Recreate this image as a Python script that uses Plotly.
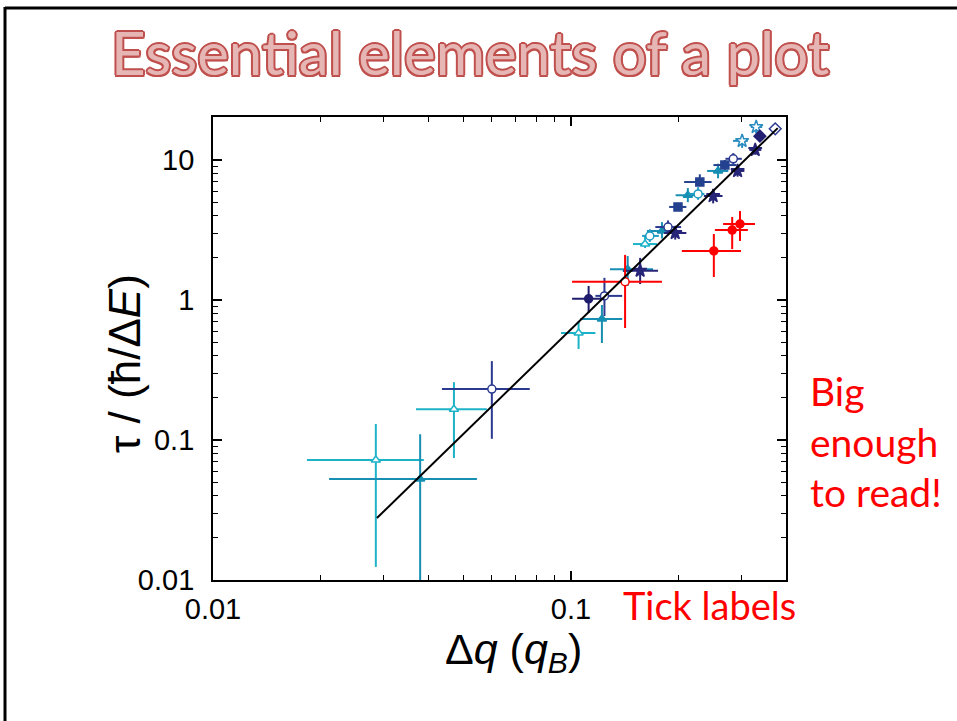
import plotly.graph_objects as go

W, H = 957, 721

# ---------------- data (value, lower bound, upper bound) ----------------
cyan_tri_x   = [0.0285, 0.0471, 0.105, 0.161]
cyan_tri_y   = [0.072, 0.166, 0.581, 2.51]
cyan_tri_xlo = [0.0183, 0.0369, 0.0938, 0.149]
cyan_tri_xhi = [0.0388, 0.0582, 0.117, 0.174]
cyan_tri_ylo = [0.0124, 0.0744, 0.447, 2.35]
cyan_tri_yhi = [0.130, 0.259, 0.708, 2.87]

teal_tri_x   = [0.0379, 0.122, 0.144, 0.1795, 0.212, 0.2575]
teal_tri_y   = [0.0527, 0.732, 1.66, 3.11, 5.6, 8.35]
teal_tri_xlo = [0.0211, 0.106, 0.1285, 0.163, 0.196, 0.240]
teal_tri_xhi = [0.0546, 0.139, 0.1695, 0.196, 0.228, 0.275]
teal_tri_ylo = [0.005, 0.493, 1.26, 2.75, 5.0, 7.4]
teal_tri_yhi = [0.110, 0.921, 2.06, 3.6, 6.3, 9.4]

navy_circ_x   = [0.0601, 0.124, 0.1866, 0.284]
navy_circ_y   = [0.231, 1.07, 3.32, 10.2]
navy_circ_xlo = [0.0436, 0.117, 0.172, 0.270]
navy_circ_xhi = [0.0767, 0.139, 0.203, 0.300]
navy_circ_ylo = [0.102, 0.768, 2.95, 9.3]
navy_circ_yhi = [0.366, 1.44, 3.7, 11.2]

dark_circ_x   = [0.112]
dark_circ_y   = [1.02]
dark_circ_xlo = [0.1007]
dark_circ_xhi = [0.124]
dark_circ_ylo = [0.807]
dark_circ_yhi = [1.26]

teal_circ_x   = [0.166, 0.2265]
teal_circ_y   = [2.87, 5.72]
teal_circ_xlo = [0.158, 0.213]
teal_circ_xhi = [0.176, 0.236]
teal_circ_ylo = [2.6, 5.2]
teal_circ_yhi = [3.2, 6.4]

navy_star_x   = [0.156, 0.1955, 0.2495, 0.292, 0.327]
navy_star_y   = [1.62, 3.01, 5.53, 8.35, 11.8]
navy_star_xlo = [0.140, 0.182, 0.235, 0.280, 0.315]
navy_star_xhi = [0.175, 0.210, 0.265, 0.305, 0.340]
navy_star_ylo = [1.3, 2.7, 4.9, 7.6, 10.9]
navy_star_yhi = [2.0, 3.35, 6.2, 9.2, 12.8]

navy_sq_x   = [0.199, 0.229, 0.269]
navy_sq_y   = [4.62, 6.96, 9.2]
navy_sq_xlo = [0.188, 0.207, 0.250]
navy_sq_xhi = [0.210, 0.247, 0.290]
navy_sq_ylo = [4.4, 6.5, 8.5]
navy_sq_yhi = [4.85, 7.9, 10.0]

teal_star_x   = [0.3006, 0.329]
teal_star_y   = [13.7, 17.2]
teal_star_xlo = [0.2835, 0.318]
teal_star_xhi = [0.312, 0.342]
teal_star_ylo = [12.2, 15.5]
teal_star_yhi = [15.1, 19.0]

navy_dia_x   = [0.337, 0.372]
navy_dia_y   = [14.8, 16.7]
navy_dia_xlo = [0.325, 0.362]
navy_dia_xhi = [0.349, 0.382]
navy_dia_ylo = [14.0, 16.0]
navy_dia_yhi = [15.6, 17.4]

red_x   = [0.1416, 0.2506, 0.282, 0.2965]
red_y   = [1.35, 2.24, 3.16, 3.49]
red_xlo = [0.1007, 0.204, 0.2523, 0.266]
red_xhi = [0.1795, 0.2985, 0.312, 0.3266]
red_ylo = [0.631, 1.46, 2.31, 2.64]
red_yhi = [2.10, 2.96, 3.92, 4.32]

fit_x = [0.0287, 0.378]
fit_y = [0.0277, 16.9]

x_tickvals = [0.01, 0.1]
x_ticktext = ["0.01", "0.1"]
y_tickvals = [0.01, 0.1, 1, 10]
y_ticktext = ["0.01", "0.1", "1", "10"]

title_fill = "#e6b6b5"
# the "t" sits in its own span so that "ti" is not drawn as a ligature
title_text = f"Essen<span style='color:{title_fill}'>t</span>ial elements of a plot"
x_title = "Δ<i>q</i> (<i>q</i><sub><i>B</i></sub>)"
y_title = "τ / (ħ/Δ<i>E</i>)"
note_big = "Big<br>enough<br>to read!"
note_tick = "Tick labels"

# ---------------- figure ----------------
fig = go.Figure()


def add_series(x, y, xlo, xhi, ylo, yhi, color, symbol, filled, size=8):
    fig.add_trace(go.Scatter(
        x=x, y=y, mode="markers",
        marker=dict(symbol=symbol, size=size,
                    color=color if filled else "white",
                    line=dict(color=color, width=1.5)),
        error_x=dict(type="data", symmetric=False,
                     array=[h - v for h, v in zip(xhi, x)],
                     arrayminus=[v - l for v, l in zip(x, xlo)],
                     color=color, thickness=2, width=0),
        error_y=dict(type="data", symmetric=False,
                     array=[h - v for h, v in zip(yhi, y)],
                     arrayminus=[v - l for v, l in zip(y, ylo)],
                     color=color, thickness=2, width=0),
        showlegend=False, hoverinfo="skip", cliponaxis=True))


add_series(cyan_tri_x, cyan_tri_y, cyan_tri_xlo, cyan_tri_xhi, cyan_tri_ylo, cyan_tri_yhi,
           "#1cb3c8", "triangle-up", False)
add_series(teal_tri_x, teal_tri_y, teal_tri_xlo, teal_tri_xhi, teal_tri_ylo, teal_tri_yhi,
           "#178fb3", "triangle-up", True)
add_series(navy_circ_x, navy_circ_y, navy_circ_xlo, navy_circ_xhi, navy_circ_ylo, navy_circ_yhi,
           "#2b3990", "circle", False)
add_series(dark_circ_x, dark_circ_y, dark_circ_xlo, dark_circ_xhi, dark_circ_ylo, dark_circ_yhi,
           "#1f1c6e", "circle", True)
add_series(teal_circ_x, teal_circ_y, teal_circ_xlo, teal_circ_xhi, teal_circ_ylo, teal_circ_yhi,
           "#1f9cc2", "circle", False)
add_series(navy_star_x, navy_star_y, navy_star_xlo, navy_star_xhi, navy_star_ylo, navy_star_yhi,
           "#272578", "star", True, 10)
add_series(navy_sq_x, navy_sq_y, navy_sq_xlo, navy_sq_xhi, navy_sq_ylo, navy_sq_yhi,
           "#24418f", "square", True)
add_series(teal_star_x, teal_star_y, teal_star_xlo, teal_star_xhi, teal_star_ylo, teal_star_yhi,
           "#2b8cc0", "star", False, 10)
add_series(navy_dia_x[:1], navy_dia_y[:1], navy_dia_xlo[:1], navy_dia_xhi[:1], navy_dia_ylo[:1], navy_dia_yhi[:1],
           "#231f72", "diamond", True, 9)
add_series(navy_dia_x[1:], navy_dia_y[1:], navy_dia_xlo[1:], navy_dia_xhi[1:], navy_dia_ylo[1:], navy_dia_yhi[1:],
           "#2b3990", "diamond", False, 9)
add_series(red_x[:1], red_y[:1], red_xlo[:1], red_xhi[:1], red_ylo[:1], red_yhi[:1],
           "#ff0000", "circle", False)
add_series(red_x[1:], red_y[1:], red_xlo[1:], red_xhi[1:], red_ylo[1:], red_yhi[1:],
           "#ff0000", "circle", True)

fig.add_trace(go.Scatter(x=fit_x, y=fit_y, mode="lines",
                         line=dict(color="black", width=2),
                         showlegend=False, hoverinfo="skip"))

# plot-area placement (pixels)
L, R, T, B = 213, 786, 117, 580
dec_x = 358.0
dec_y = 140.0

minor_x = [m * 10 ** e for e in (-2, -1) for m in range(2, 10)]
minor_y = [m * 10 ** e for e in (-2, -1, 0, 1) for m in range(2, 10)]

tickfont = dict(family="Liberation Sans, Arial, sans-serif", size=29, color="black")

fig.update_xaxes(type="log", range=[-2, -2 + (R - L) / dec_x],
                 domain=[L / W, R / W],
                 tickmode="array", tickvals=x_tickvals, ticktext=x_ticktext,
                 ticks="inside", ticklen=9, tickwidth=1.5, tickcolor="black",
                 minor=dict(ticks="inside", ticklen=5, tickwidth=1.2, tickcolor="black",
                            tickmode="array", tickvals=minor_x, showgrid=False),
                 showline=True, linecolor="black", linewidth=1.8, mirror="allticks",
                 showgrid=False, zeroline=False, tickfont=tickfont,
                 ticklabelstandoff=2, automargin=False)
fig.update_yaxes(type="log", range=[-2, 1 + (160 - T) / dec_y],
                 domain=[1 - B / H, 1 - T / H],
                 tickmode="array", tickvals=y_tickvals, ticktext=y_ticktext,
                 ticks="inside", ticklen=9, tickwidth=1.5, tickcolor="black",
                 minor=dict(ticks="inside", ticklen=5, tickwidth=1.2, tickcolor="black",
                            tickmode="array", tickvals=minor_y, showgrid=False),
                 showline=True, linecolor="black", linewidth=1.8, mirror="allticks",
                 showgrid=False, zeroline=False, tickfont=tickfont,
                 ticklabelstandoff=11, automargin=False)

outline = "#c0504d"
shadow = ", ".join(f"{dx}px {dy}px 0 {outline}" for dx, dy in
                   [(-2, 0), (2, 0), (0, -2), (0, 2), (-1.5, -1.5), (1.5, -1.5), (-1.5, 1.5), (1.5, 1.5)])

annotations = [
    dict(text=title_text, x=470 / W, y=1 - 52 / H, xref="paper", yref="paper",
         xanchor="center", yanchor="middle", showarrow=False,
         font=dict(family="Lato, sans-serif", size=60, color=title_fill, shadow=shadow)),
    dict(text=x_title, x=513 / W, y=1 - 652 / H, xref="paper", yref="paper",
         xanchor="center", yanchor="middle", showarrow=False,
         font=dict(family="Liberation Sans, Arial, sans-serif", size=43, color="black")),
    dict(text=y_title, x=124 / W, y=1 - 364 / H, xref="paper", yref="paper",
         xanchor="center", yanchor="middle", showarrow=False, textangle=-90,
         font=dict(family="Liberation Sans, Arial, sans-serif", size=44, color="black")),
    dict(text=note_big, x=808 / W, y=1 - 442 / H, xref="paper", yref="paper",
         xanchor="left", yanchor="middle", align="left", showarrow=False,
         font=dict(family="Lato, sans-serif", size=39, color="#ff0000")),
    dict(text=note_tick, x=621 / W, y=1 - 605 / H, xref="paper", yref="paper",
         xanchor="left", yanchor="middle", align="left", showarrow=False,
         font=dict(family="Lato, sans-serif", size=38, color="#ff0000")),
]

shapes = [
    dict(type="line", xref="paper", yref="paper", x0=5 / W, x1=5 / W, y0=0, y1=1 - 7 / H,
         line=dict(color="black", width=3)),
    dict(type="line", xref="paper", yref="paper", x0=5 / W, x1=1.0, y0=1 - 8 / H, y1=1 - 8 / H,
         line=dict(color="black", width=3)),
]

fig.update_layout(width=W, height=H, margin=dict(l=0, r=0, t=0, b=0),
                  paper_bgcolor="white", plot_bgcolor="white",
                  annotations=annotations, shapes=shapes, showlegend=False)

fig.write_html("out.html")
